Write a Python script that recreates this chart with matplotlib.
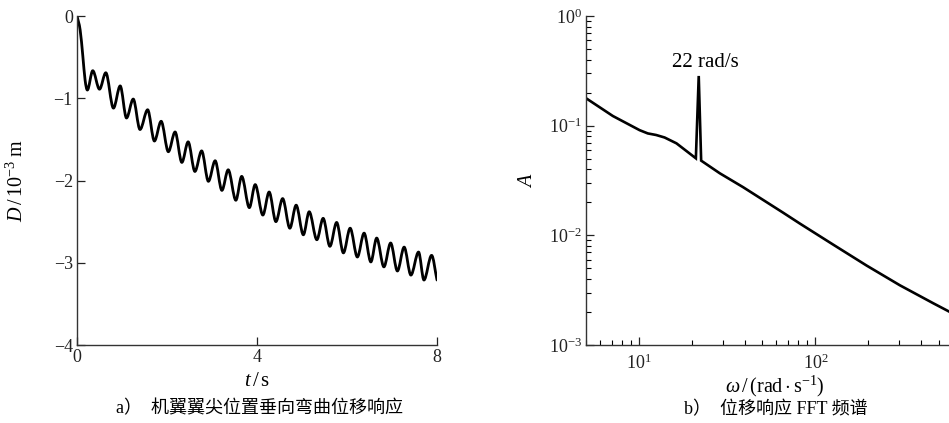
import matplotlib
matplotlib.use("Agg")
import matplotlib.pyplot as plt
import numpy as np
from matplotlib.path import Path
from matplotlib.patches import PathPatch
from matplotlib.ticker import LogLocator, NullFormatter

plt.rcParams['font.family'] = ['Liberation Serif', 'Noto Sans CJK SC', 'DejaVu Sans']
plt.rcParams['mathtext.fontset'] = 'custom'
plt.rcParams['mathtext.rm'] = 'Liberation Serif'
plt.rcParams['mathtext.it'] = 'Liberation Serif:italic'
plt.rcParams['mathtext.bf'] = 'Liberation Serif:bold'

t_pts = [0.0, 0.07, 0.13, 0.18, 0.23, 0.35, 0.50, 0.64, 0.81, 0.96, 1.10, 1.25, 1.40, 1.57,
         1.72, 1.87, 2.03, 2.18, 2.33, 2.47, 2.62, 2.77, 2.92, 3.07, 3.22, 3.36, 3.53,
         3.66, 3.83, 3.96, 4.13, 4.27, 4.42, 4.57, 4.73, 4.87, 5.03, 5.16, 5.33, 5.47,
         5.62, 5.77, 5.92, 6.07, 6.23, 6.38, 6.53, 6.66, 6.82, 6.97, 7.12, 7.27, 7.42,
         7.59, 7.71, 7.88, 8.0]
d_pts = [0.0, -0.17, -0.49, -0.78, -0.90, -0.665, -0.89, -0.69, -1.12, -0.85, -1.24, -1.01,
         -1.38, -1.14, -1.52, -1.28, -1.65, -1.41, -1.78, -1.53, -1.89, -1.64, -2.01, -1.76,
         -2.12, -1.87, -2.24, -1.95, -2.33, -2.05, -2.42, -2.14, -2.50, -2.22, -2.58, -2.30,
         -2.66, -2.38, -2.72, -2.46, -2.80, -2.51, -2.88, -2.58, -2.93, -2.64, -2.99, -2.70,
         -3.05, -2.76, -3.10, -2.81, -3.15, -2.87, -3.21, -2.91, -3.21]

# ---- data: panel b (FFT spectrum) ----
omega = [5.0, 7.1, 10.07, 11.2, 12.5, 13.96, 16.3, 21.0, 21.8, 22.5, 28.7, 38.9, 65.6,
         81.7, 126.2, 195.4, 302.0, 467.0, 573.0]
amp = [0.178, 0.1225, 0.091, 0.085, 0.0822, 0.078, 0.069, 0.0504, 0.284, 0.048, 0.0368,
       0.0275, 0.0161, 0.0128, 0.00823, 0.00530, 0.00350, 0.00240, 0.00202]

yticks_a = [0, -1, -2, -3, -4]
xticks_a = [0, 4, 8]

fig = plt.figure(figsize=(9.49, 4.23), dpi=100)
axA = fig.add_axes([77/949, 1-345/423, 360/949, 329/423])
axB = fig.add_axes([586/949, 1-345/423, 363/949, 329/423])

FS = 13     # tick labels
LFS = 14.5  # axis labels

# smooth curve through the read points (Hermite -> cubic Bezier), drawn in data coords
t = np.array(t_pts); d = np.array(d_pts)
n = len(t)
m = np.zeros(n)
for i in range(n):
    if i == 0:
        m[i] = (d[1]-d[0])/(t[1]-t[0])
    elif i == n-1:
        m[i] = (d[-1]-d[-2])/(t[-1]-t[-2])
    else:
        a1 = d[i]-d[i-1]; a2 = d[i+1]-d[i]
        if a1*a2 <= 0:
            m[i] = 0.0
        else:
            m[i] = (d[i+1]-d[i-1])/(t[i+1]-t[i-1])
verts = [(t[0], d[0])]
codes = [Path.MOVETO]
for i in range(n-1):
    h = t[i+1]-t[i]
    verts += [(t[i]+h/3, d[i]+m[i]*h/3), (t[i+1]-h/3, d[i+1]-m[i+1]*h/3), (t[i+1], d[i+1])]
    codes += [Path.CURVE4]*3
axA.add_patch(PathPatch(Path(verts, codes), fill=False, lw=2.0, color='black',
                        joinstyle='round', capstyle='round'))
axA.set_xlim(0, 8)
axA.set_ylim(-4, 0)
axA.set_xticks(xticks_a)
axA.set_yticks(yticks_a)
axA.set_xticklabels([str(v) for v in xticks_a])
axA.set_yticklabels(['0', '\u22121', '\u22122', '\u22123', '\u22124'])
axA.set_xlabel(r'$t\,/\,\mathrm{s}$', fontsize=LFS + 0.5)
axA.set_ylabel(r'$D\,/\,10^{-3}\ \mathrm{m}$', fontsize=LFS)
axA.xaxis.set_label_coords(0.5, -27/329)
axA.yaxis.set_label_coords(-49/360, 0.5)

axB.loglog(omega, amp, color='black', lw=1.9, solid_joinstyle='miter')
axB.set_xlim(5, 573)
axB.set_ylim(1e-3, 1e0)
axB.xaxis.set_minor_locator(LogLocator(base=10, subs=np.arange(2, 10)*1.0, numticks=20))
axB.yaxis.set_minor_locator(LogLocator(base=10, subs=np.arange(2, 10)*1.0, numticks=20))
axB.xaxis.set_minor_formatter(NullFormatter())
axB.yaxis.set_minor_formatter(NullFormatter())
axB.set_xlabel('$\\mathit{\u03c9}\\,/\\,(\\mathrm{rad}\\cdot\\mathrm{s}^{-1})$', fontsize=LFS)
axB.set_ylabel(r'$A$', fontsize=LFS)
axB.xaxis.set_label_coords((775-586)/363, -29/329)
axB.yaxis.set_label_coords((537-586)/363, 0.5)
axB.text(23.9, 0.373, '22 rad/s', ha='center', va='center', fontsize=15)

for ax in (axA, axB):
    for s in ('top', 'right'):
        ax.spines[s].set_visible(False)
    for s in ('left', 'bottom'):
        ax.spines[s].set_linewidth(1.0)
        ax.spines[s].set_color('#333333')
    ax.tick_params(which='major', direction='in', length=6, width=0.9, labelsize=FS, pad=3,
                   colors='#222222')
    ax.tick_params(which='minor', direction='in', length=3.5, width=0.8)
    ax.patch.set_alpha(0)
axB.tick_params(axis='x', which='major', pad=6)

fig.text(259/949, 1-409/423, 'a\uff09  机翼翼尖位置垂向弯曲位移响应', ha='center', va='center',
         fontsize=13)
fig.text(776/949, 1-410/423, 'b\uff09  位移响应 FFT 频谱', ha='center', va='center',
         fontsize=13)

fig.savefig('out.png', dpi=100)
